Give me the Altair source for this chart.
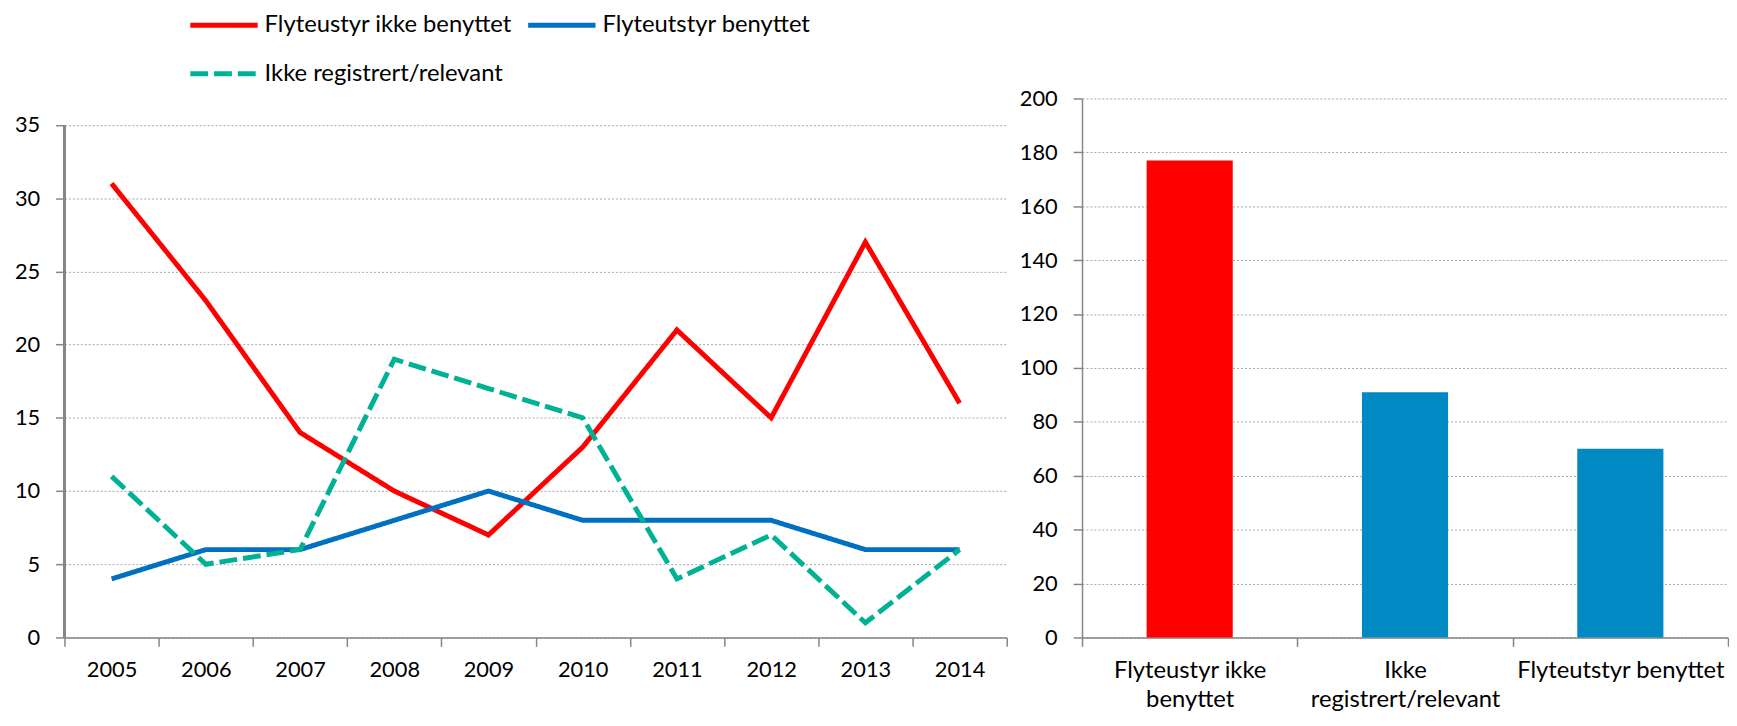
import json
import altair as alt
import pandas as pd

# ---------------- data ----------------
years = ["2005", "2006", "2007", "2008", "2009", "2010", "2011", "2012", "2013", "2014"]
ikke_benyttet = [31, 23, 14, 10, 7, 13, 21, 15, 27, 16]
benyttet = [4, 6, 6, 8, 10, 8, 8, 8, 6, 6]
ikke_registrert = [11, 5, 6, 19, 17, 15, 4, 7, 1, 6]

series_names = ["Flyteustyr ikke benyttet", "Flyteutstyr benyttet", "Ikke registrert/relevant"]
series_colors = ["#FF0000", "#0070C0", "#00B294"]
series_dash = [[1, 0], [1, 0], [18, 6]]

bar_categories = ["Flyteustyr ikke benyttet", "Ikke registrert/relevant", "Flyteutstyr benyttet"]
bar_values = [177, 91, 70]
bar_colors = ["#FF0000", "#0089C2", "#0089C2"]
bar_label_lines = [["Flyteustyr ikke", "benyttet"], ["Ikke", "registrert/relevant"], ["Flyteutstyr benyttet"]]

left_ticks = [0, 5, 10, 15, 20, 25, 30, 35]
left_axis_top = 35
left_domain_max = 36.81
right_ticks = [0, 20, 40, 60, 80, 100, 120, 140, 160, 180, 200]

FONT = "Lato"
FS = 22        # numbers
FS_TEXT = 24   # text labels
AXIS_GRAY = "#868686"
GRID_GRAY = "#A6A6A6"

rows = []
for name, vals in zip(series_names, [ikke_benyttet, benyttet, ikke_registrert]):
    for y, v in zip(years, vals):
        rows.append({"year": y, "series": name, "value": v})
line_df = pd.DataFrame(rows)

bar_df = pd.DataFrame({"cat": bar_categories, "value": bar_values})

legend = alt.Legend(
    title=None, orient="none", legendX=149, legendY=-86, columns=2, direction="horizontal",
    symbolType="M-4,0H4", symbolSize=17 * 17, symbolStrokeWidth=5,
    labelFont=FONT, labelFontSize=FS_TEXT, labelColor="#000000", labelOffset=29,
    columnPadding=6, rowPadding=25, padding=0, labelLimit=400,
)

x_left = alt.X("year:N", sort=years,
               scale=alt.Scale(type="band", paddingInner=0, paddingOuter=0),
               axis=alt.Axis(title=None, labelAngle=0, tickBand="extent", tickSize=9,
                             labelPadding=13, grid=False, domainColor=AXIS_GRAY,
                             tickColor=AXIS_GRAY, domainWidth=1.5, tickWidth=1.5))

lines = alt.Chart(line_df).mark_line(strokeWidth=5, strokeCap="butt").encode(
    x=x_left,
    y=alt.Y("value:Q", scale=alt.Scale(domain=[0, left_domain_max], nice=False),
            axis=alt.Axis(title=None, values=left_ticks, tickSize=9, labelPadding=16,
                          grid=True, gridDash=[2, 2], gridColor=GRID_GRAY, domain=False,
                          tickColor=AXIS_GRAY, tickWidth=1.5)),
    color=alt.Color("series:N", scale=alt.Scale(domain=series_names, range=series_colors),
                    legend=legend),
    strokeDash=alt.StrokeDash("series:N", scale=alt.Scale(domain=series_names, range=series_dash),
                              legend=legend),
)

y_axis_line = alt.Chart(line_df).mark_rule(color=AXIS_GRAY, strokeWidth=1.5).encode(
    x=alt.value(0),
    y=alt.datum(0),
    y2=alt.datum(left_axis_top),
)

line_chart = alt.layer(y_axis_line, lines).properties(width=951, height=544)

label_expr = " : ".join(
    f"datum.value == {json.dumps(c)} ? {json.dumps(l)}"
    for c, l in zip(bar_categories, bar_label_lines)
) + " : datum.label"

bar_chart = alt.Chart(bar_df).mark_bar(width=alt.RelativeBandSize(0.4)).encode(
    x=alt.X("cat:N", sort=bar_categories,
            scale=alt.Scale(type="band", paddingInner=0, paddingOuter=0),
            axis=alt.Axis(title=None, labelAngle=0, tickBand="extent", tickSize=9,
                          labelPadding=12, grid=False, labelExpr=label_expr,
                          labelFontSize=FS_TEXT,
                          labelLineHeight=30, domainColor=AXIS_GRAY, tickColor=AXIS_GRAY,
                          domainWidth=1.5, tickWidth=1.5, labelLimit=400)),
    y=alt.Y("value:Q", scale=alt.Scale(domain=[0, 200], nice=False),
            axis=alt.Axis(title=None, values=right_ticks, tickSize=9, labelPadding=16,
                          grid=True, gridDash=[2, 2], gridColor=GRID_GRAY,
                          domainColor=AXIS_GRAY, tickColor=AXIS_GRAY,
                          domainWidth=1.5, tickWidth=1.5)),
    color=alt.Color("cat:N", scale=alt.Scale(domain=bar_categories, range=bar_colors),
                    legend=None),
).properties(width=652, height=544)

chart = alt.hconcat(line_chart, bar_chart, spacing=11).resolve_scale(
    color="independent", strokeDash="independent", x="independent", y="independent"
).properties(
    padding={"left": 6, "top": 2, "right": 0, "bottom": 5}
).configure_view(stroke=None).configure_axis(
    labelFont=FONT, labelFontSize=FS, labelColor="#000000"
)

chart.save("out.html", embed_options={"renderer": "svg", "actions": False})
